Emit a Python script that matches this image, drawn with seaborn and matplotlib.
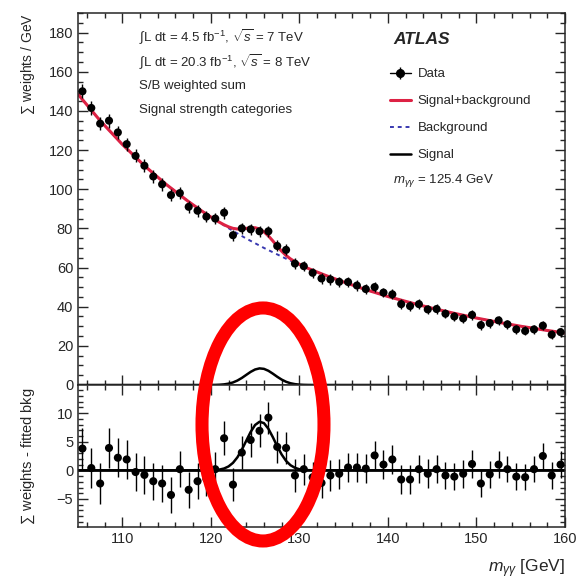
import numpy as np
import pandas as pd
import matplotlib
matplotlib.use("Agg")
import matplotlib.pyplot as plt
from matplotlib.lines import Line2D
from matplotlib.patches import Ellipse
from matplotlib.ticker import MultipleLocator
import seaborn as sns

# bin centres (1 GeV bins)
mass = [105.5 + i for i in range(55)]

# sum of weights / GeV
weights = [150, 141.5, 133.5, 135, 129, 123, 117, 112, 106.5, 102.5,
           97, 98, 91, 89, 86, 85, 88, 76.5, 80, 79.5,
           78.5, 78.5, 71, 69, 62, 60.7, 57.3, 54.4, 53.9, 52.7,
           52.6, 50.8, 49, 50, 47.2, 46.3, 41.3, 40.3, 41.3, 38.6,
           38.8, 36.4, 35, 34, 35.8, 30.6, 31.6, 33, 31, 28.4,
           27.6, 28.4, 30.3, 25.7, 27]

# weights - fitted background
residual = [3.8, 0.4, -2.3, 3.9, 2.2, 1.9, -0.3, -0.8, -1.9, -2.3,
            -4.3, 0.2, -3.4, -1.9, -1.5, 0.2, 5.6, -2.5, 3.1, 5.3,
            6.9, 9.2, 4.1, 3.9, -0.9, 0.2, -1.2, -2.2, -0.9, -0.6,
            0.5, 0.5, 0.3, 2.6, 1.0, 1.9, -1.6, -1.6, 0.2, -0.6,
            0.2, -0.9, -1.1, -0.6, 1.1, -2.3, -0.7, 1.0, 0.2, -1.1,
            -1.2, 0.2, 2.5, -0.9, 1.0]

errors = [3.6, 3.5, 3.5, 3.5, 3.4, 3.4, 3.3, 3.3, 3.2, 3.2,
          3.2, 3.1, 3.1, 3.1, 3.0, 3.0, 3.0, 2.9, 2.9, 2.9,
          2.9, 2.8, 2.8, 2.8, 2.8, 2.7, 2.7, 2.7, 2.7, 2.6,
          2.6, 2.6, 2.6, 2.6, 2.5, 2.5, 2.5, 2.5, 2.5, 2.5,
          2.4, 2.4, 2.4, 2.4, 2.4, 2.4, 2.3, 2.3, 2.3, 2.3,
          2.3, 2.3, 2.3, 2.3, 2.3]

# fit curves
curve_x = [105, 107.5, 110, 112.5, 115, 117.5,
           118, 118.5, 119, 119.5, 120, 120.5, 121, 121.5, 122, 122.5,
           123, 123.5, 124, 124.5, 125, 125.5, 126, 126.5, 127, 127.5,
           128, 128.5, 129, 129.5, 130, 130.5, 131, 131.5, 132, 132.5, 133,
           135, 137.5, 140, 142.5, 145, 147.5, 150, 152.5, 155, 157.5, 160]
background = [148.5, 135.0, 122.9, 112.0, 102.3, 93.6,
              92.0, 90.4, 88.8, 87.3, 85.8, 84.3, 82.9, 81.5, 80.1, 78.7,
              77.4, 76.1, 74.8, 73.6, 72.4, 71.2, 70.0, 68.9, 67.8, 66.7,
              65.6, 64.5, 63.5, 62.5, 61.5, 60.5, 59.5, 58.6, 57.7, 56.8, 55.9,
              52.6, 48.7, 45.2, 42.1, 39.2, 36.6, 34.2, 32.0, 30.0, 28.2, 26.5]
signal = [0, 0, 0, 0, 0, 0,
          0, 0, 0, 0.01, 0.02, 0.05, 0.14, 0.32, 0.68, 1.30,
          2.27, 3.59, 5.16, 6.71, 7.92, 8.48, 8.24, 7.26, 5.80, 4.20,
          2.76, 1.64, 0.89, 0.44, 0.19, 0.08, 0.03, 0.01, 0, 0, 0,
          0, 0, 0, 0, 0, 0, 0, 0, 0, 0, 0]

data = pd.DataFrame({"mass": mass, "weights": weights,
                     "residual": residual, "err": errors})
curves = pd.DataFrame({"mass": curve_x, "bkg": background, "sig": signal})
curves["sb"] = curves["bkg"] + curves["sig"]

sns.set_theme(style="ticks")
plt.rcParams["font.family"] = ["Liberation Sans", "DejaVu Sans"]
plt.rcParams["mathtext.fontset"] = "custom"
plt.rcParams["mathtext.rm"] = "Liberation Sans"
plt.rcParams["mathtext.it"] = "Liberation Sans:italic"
plt.rcParams["mathtext.bf"] = "Liberation Sans:bold"

fig = plt.figure(figsize=(5.77, 5.85), dpi=100)
ax = fig.add_axes([0.1352, 0.3419, 0.844, 0.6359])
rax = fig.add_axes([0.1352, 0.0991, 0.844, 0.2428])

red = "#dd2244"
blue = "#3838b0"

# main panel
sns.lineplot(data=curves, x="mass", y="sig", ax=ax, color="black", lw=1.8,
             sort=False, estimator=None)
sns.lineplot(data=curves, x="mass", y="bkg", ax=ax, color=blue, lw=1.4,
             ls=(0, (2, 2)), sort=False, estimator=None)
sns.lineplot(data=curves, x="mass", y="sb", ax=ax, color=red, lw=2.2,
             sort=False, estimator=None)
ax.errorbar(data["mass"], data["weights"], yerr=data["err"], fmt="none",
            ecolor="black", elinewidth=1, zorder=4)
sns.scatterplot(data=data, x="mass", y="weights", ax=ax, color="black",
                s=34, edgecolor="none", zorder=5)

# residual panel
rax.axhline(0, color="black", lw=1.8, zorder=1)
sns.lineplot(data=curves, x="mass", y="sig", ax=rax, color="black", lw=1.8,
             sort=False, estimator=None)
rax.errorbar(data["mass"], data["residual"], yerr=data["err"], fmt="none",
             ecolor="black", elinewidth=1, zorder=4)
sns.scatterplot(data=data, x="mass", y="residual", ax=rax, color="black",
                s=34, edgecolor="none", zorder=5)

for a in (ax, rax):
    a.set_xlim(105, 160)
    a.xaxis.set_major_locator(MultipleLocator(10))
    a.xaxis.set_minor_locator(MultipleLocator(2))
    a.tick_params(which="both", direction="in", top=True, right=True,
                  labelsize=10.5, width=1)
    a.tick_params(which="major", length=7)
    a.tick_params(which="minor", length=3.5)
    for s in a.spines.values():
        s.set_linewidth(1.1)

ax.set_ylim(0, 190)
ax.yaxis.set_major_locator(MultipleLocator(20))
ax.yaxis.set_minor_locator(MultipleLocator(5))
ax.tick_params(labelbottom=False)
ax.set_xlabel("")
ax.set_ylabel(r"$\sum$ weights / GeV", fontsize=10, loc="top")
ax.yaxis.set_label_coords(-0.085, 1.0)

rax.set_ylim(-9.9, 14.9)
rax.yaxis.set_major_locator(MultipleLocator(5))
rax.yaxis.set_minor_locator(MultipleLocator(1))
rax.set_ylabel(r"$\sum$ weights - fitted bkg", fontsize=10.5)
rax.yaxis.set_label_coords(-0.085, 0.5)
rax.set_xlabel(r"$m_{\gamma\gamma}$ [GeV]", fontsize=12.5, loc="right",
               labelpad=8)

# labels
ax.text(0.125, 0.935, r"$\int$L dt = 4.5 fb$^{-1}$, $\sqrt{s}$ = 7 TeV",
        transform=ax.transAxes, fontsize=9.5, va="center")
ax.text(0.125, 0.868, r"$\int$L dt = 20.3 fb$^{-1}$, $\sqrt{s}$ = 8 TeV",
        transform=ax.transAxes, fontsize=9.5, va="center")
ax.text(0.125, 0.803, "S/B weighted sum", transform=ax.transAxes,
        fontsize=9.5, va="center")
ax.text(0.125, 0.74, "Signal strength categories", transform=ax.transAxes,
        fontsize=9.5, va="center")
ax.text(0.647, 0.93, "ATLAS", transform=ax.transAxes, fontsize=12.5,
        fontweight="bold", fontstyle="italic", va="center")

handles = [
    (Line2D([], [], color="black", lw=1),
     Line2D([], [], color="black", marker="|", ms=9, ls="none"),
     Line2D([], [], color="black", marker="o", ms=5.5, ls="none")),
    Line2D([], [], color=red, lw=2.2),
    Line2D([], [], color=blue, lw=1.4, ls=(0, (2, 2))),
    Line2D([], [], color="black", lw=1.8),
]
labels = ["Data", "Signal+background", "Background", "Signal"]
ax.legend(handles, labels, loc="upper left", bbox_to_anchor=(0.64, 0.852),
          frameon=False, fontsize=9.5, handlelength=1.6, handletextpad=0.5,
          labelspacing=1.12, borderpad=0, borderaxespad=0)
ax.text(0.647, 0.55, r"$m_{\gamma\gamma}$ = 125.4 GeV",
        transform=ax.transAxes, fontsize=9.5, va="center")

# red annotation ring
fig.patches.append(Ellipse((0.4558, 0.2744), 0.2114, 0.3983,
                           transform=fig.transFigure, fill=False,
                           edgecolor="red", lw=9.4, zorder=10))

fig.savefig("out.png", dpi=100)
